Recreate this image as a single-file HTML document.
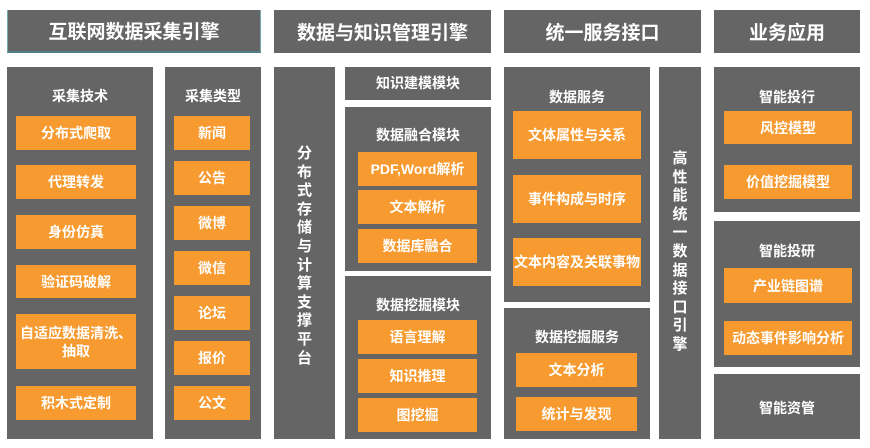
<!DOCTYPE html>
<html><head><meta charset="utf-8"><style>
body{margin:0;width:870px;height:448px;background:#fff;position:relative;overflow:hidden;font-family:"Liberation Sans","Noto Sans CJK SC",sans-serif;}
div{position:absolute;box-sizing:border-box;}
.g{background:#656565;}
.h{background:#656565;color:#fff;font-weight:bold;font-size:19px;display:flex;align-items:center;justify-content:center;}
.o{background:#F79A30;color:#fff;font-size:14px;font-weight:bold;display:flex;align-items:center;justify-content:center;text-align:center;line-height:18px;}
.t{color:#fff;font-size:14px;font-weight:bold;text-align:center;}
.v{color:#fff;font-size:15px;font-weight:bold;text-align:center;line-height:18.6px;}
</style></head><body>
<div class="h" style="left:7px;top:10px;width:254px;height:43px;border-bottom:2px solid #4f7f86;border-left:1px solid #7aa;border-right:1px solid #7aa">互联网数据采集引擎</div>
<div class="h" style="left:274px;top:10px;width:217px;height:43px">数据与知识管理引擎</div>
<div class="h" style="left:504px;top:10px;width:197px;height:43px">统一服务接口</div>
<div class="h" style="left:714px;top:10px;width:146px;height:43px">业务应用</div>

<div class="g" style="left:7px;top:67px;width:146px;height:372px"></div>
<div class="t" style="left:7px;top:86px;width:146px">采集技术</div>
<div class="o" style="left:16px;top:116px;width:120px;height:34px">分布式爬取</div>
<div class="o" style="left:16px;top:165px;width:120px;height:34px">代理转发</div>
<div class="o" style="left:16px;top:215px;width:120px;height:34px">身份仿真</div>
<div class="o" style="left:16px;top:265px;width:120px;height:33px">验证码破解</div>
<div class="o" style="left:16px;top:314px;width:120px;height:55px">自适应数据清洗、<br>抽取</div>
<div class="o" style="left:16px;top:386px;width:120px;height:34px">积木式定制</div>

<div class="g" style="left:165px;top:67px;width:96px;height:372px"></div>
<div class="t" style="left:165px;top:86px;width:96px">采集类型</div>
<div class="o" style="left:174px;top:116px;width:76px;height:34px">新闻</div>
<div class="o" style="left:174px;top:161px;width:76px;height:34px">公告</div>
<div class="o" style="left:174px;top:206px;width:76px;height:34px">微博</div>
<div class="o" style="left:174px;top:251px;width:76px;height:34px">微信</div>
<div class="o" style="left:174px;top:296px;width:76px;height:34px">论坛</div>
<div class="o" style="left:174px;top:341px;width:76px;height:34px">报价</div>
<div class="o" style="left:174px;top:386px;width:76px;height:34px">公文</div>

<div class="g" style="left:274px;top:67px;width:61px;height:372px"></div>
<div class="v" style="left:274px;top:145px;width:61px">分<br>布<br>式<br>存<br>储<br>与<br>计<br>算<br>支<br>撑<br>平<br>台</div>

<div class="g t" style="left:345px;top:67px;width:146px;height:33px;line-height:33px">知识建模模块</div>
<div class="g" style="left:345px;top:107px;width:146px;height:164px"></div>
<div class="t" style="left:345px;top:125px;width:146px">数据融合模块</div>
<div class="o" style="left:358px;top:152px;width:119px;height:34px">PDF,Word解析</div>
<div class="o" style="left:358px;top:190px;width:119px;height:34px">文本解析</div>
<div class="o" style="left:358px;top:229px;width:119px;height:34px">数据库融合</div>
<div class="g" style="left:345px;top:276px;width:146px;height:163px"></div>
<div class="t" style="left:345px;top:295px;width:146px">数据挖掘模块</div>
<div class="o" style="left:358px;top:320px;width:119px;height:34px">语言理解</div>
<div class="o" style="left:358px;top:359px;width:119px;height:34px">知识推理</div>
<div class="o" style="left:358px;top:398px;width:119px;height:34px">图挖掘</div>

<div class="g" style="left:504px;top:67px;width:146px;height:235px"></div>
<div class="t" style="left:504px;top:87px;width:146px">数据服务</div>
<div class="o" style="left:513px;top:111px;width:128px;height:48px">文体属性与关系</div>
<div class="o" style="left:513px;top:175px;width:128px;height:48px">事件构成与时序</div>
<div class="o" style="left:513px;top:238px;width:128px;height:48px">文本内容及关联事物</div>
<div class="g" style="left:504px;top:308px;width:146px;height:131px"></div>
<div class="t" style="left:504px;top:327px;width:146px">数据挖掘服务</div>
<div class="o" style="left:516px;top:353px;width:121px;height:34px">文本分析</div>
<div class="o" style="left:516px;top:397px;width:121px;height:34px">统计与发现</div>

<div class="g" style="left:659px;top:67px;width:42px;height:372px"></div>
<div class="v" style="left:659px;top:150px;width:42px">高<br>性<br>能<br>统<br>一<br>数<br>据<br>接<br>口<br>引<br>擎</div>

<div class="g" style="left:714px;top:67px;width:146px;height:145px"></div>
<div class="t" style="left:714px;top:87px;width:146px">智能投行</div>
<div class="o" style="left:724px;top:111px;width:128px;height:33px">风控模型</div>
<div class="o" style="left:724px;top:165px;width:128px;height:34px">价值挖掘模型</div>
<div class="g" style="left:714px;top:221px;width:146px;height:146px"></div>
<div class="t" style="left:714px;top:241px;width:146px">智能投研</div>
<div class="o" style="left:724px;top:268px;width:128px;height:35px">产业链图谱</div>
<div class="o" style="left:724px;top:321px;width:128px;height:34px">动态事件影响分析</div>
<div class="g" style="left:714px;top:374px;width:146px;height:65px"></div>
<div class="t" style="left:714px;top:398px;width:146px">智能资管</div>
</body></html>
